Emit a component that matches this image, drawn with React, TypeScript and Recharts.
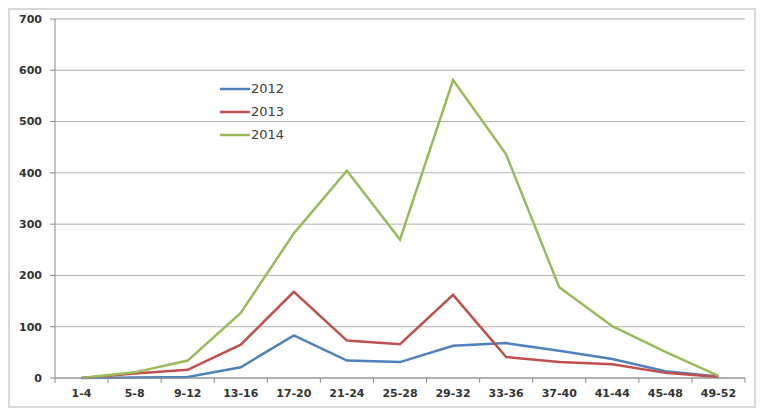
import React from "react";
import { LineChart, Line, XAxis, YAxis, CartesianGrid, Legend } from "recharts";

const categories = ["1-4", "5-8", "9-12", "13-16", "17-20", "21-24", "25-28", "29-32", "33-36", "37-40", "41-44", "45-48", "49-52"];
const s2012 = [0, 1, 2, 21, 83, 34, 31, 63, 68, 53, 37, 13, 3];
const s2013 = [0, 9, 16, 65, 168, 73, 66, 162, 41, 31, 27, 10, 2];
const s2014 = [0, 11, 34, 127, 282, 404, 270, 581, 436, 177, 101, 51, 4];
const yTicks = [0, 100, 200, 300, 400, 500, 600, 700];

const data = categories.map((c, i) => ({
  week: c,
  "2012": s2012[i],
  "2013": s2013[i],
  "2014": s2014[i],
}));

const FONT = "'DejaVu Sans', Verdana, sans-serif";

const XTick = (props: any) => {
  const { x, y, payload, index } = props;
  const off = payload && payload.offset ? payload.offset : 26.5;
  return (
    <g>
      <line x1={x - off} y1={y} x2={x - off} y2={y + 5} stroke="#8c8c8c" strokeWidth={1} />
      {index === categories.length - 1 && (
        <line x1={x + off} y1={y} x2={x + off} y2={y + 5} stroke="#8c8c8c" strokeWidth={1} />
      )}
      <text x={x} y={y + 19} textAnchor="middle" fontFamily={FONT} fontWeight="bold" fontSize={11} fill="#333">
        {payload.value}
      </text>
    </g>
  );
};

const LegendContent = (props: any) => {
  const { payload } = props;
  return (
    <div style={{ fontFamily: FONT, fontSize: 13, color: "#404040" }}>
      {(payload || []).map((p: any) => (
        <div key={p.value} style={{ height: 23, display: "flex", alignItems: "center" }}>
          <svg width={30} height={4} style={{ display: "block" }}>
            <line x1={0} y1={2} x2={30} y2={2} stroke={p.color} strokeWidth={2.5} />
          </svg>
          <span style={{ marginLeft: 1 }}>{p.value}</span>
        </div>
      ))}
    </div>
  );
};

export default function App() {
  return (
    <div style={{ width: 744, height: 396, border: "2px solid #d9d9d9", background: "#fff" }}>
      <LineChart width={744} height={396} data={data} margin={{ top: 9, right: 9, bottom: 0, left: 0 }}>
        <CartesianGrid vertical={false} stroke="#b0b0b0" strokeWidth={1} />
        <XAxis
          dataKey="week"
          scale="band"
          height={28}
          axisLine={{ stroke: "#8c8c8c" }}
          tickLine={false}
          tickSize={0}
          tickMargin={0}
          interval={0}
          tick={<XTick />}
        />
        <YAxis
          width={45}
          domain={[0, 700]}
          ticks={yTicks}
          interval={0}
          axisLine={{ stroke: "#8c8c8c" }}
          tickLine={{ stroke: "#8c8c8c" }}
          tickSize={5}
          tickMargin={8}
          tick={{ fontFamily: FONT, fontWeight: "bold", fontSize: 11, fill: "#333" }}
        />
        <Legend
          layout="vertical"
          align="center"
          verticalAlign="middle"
          content={<LegendContent />}
          wrapperStyle={{ left: 210, top: 67, width: 100 }}
        />
        <Line type="linear" dataKey="2012" stroke="#4f81bd" strokeWidth={2.5} dot={false} isAnimationActive={false} />
        <Line type="linear" dataKey="2013" stroke="#c0504d" strokeWidth={2.5} dot={false} isAnimationActive={false} />
        <Line type="linear" dataKey="2014" stroke="#9bbb59" strokeWidth={2.5} dot={false} isAnimationActive={false} />
      </LineChart>
    </div>
  );
}
